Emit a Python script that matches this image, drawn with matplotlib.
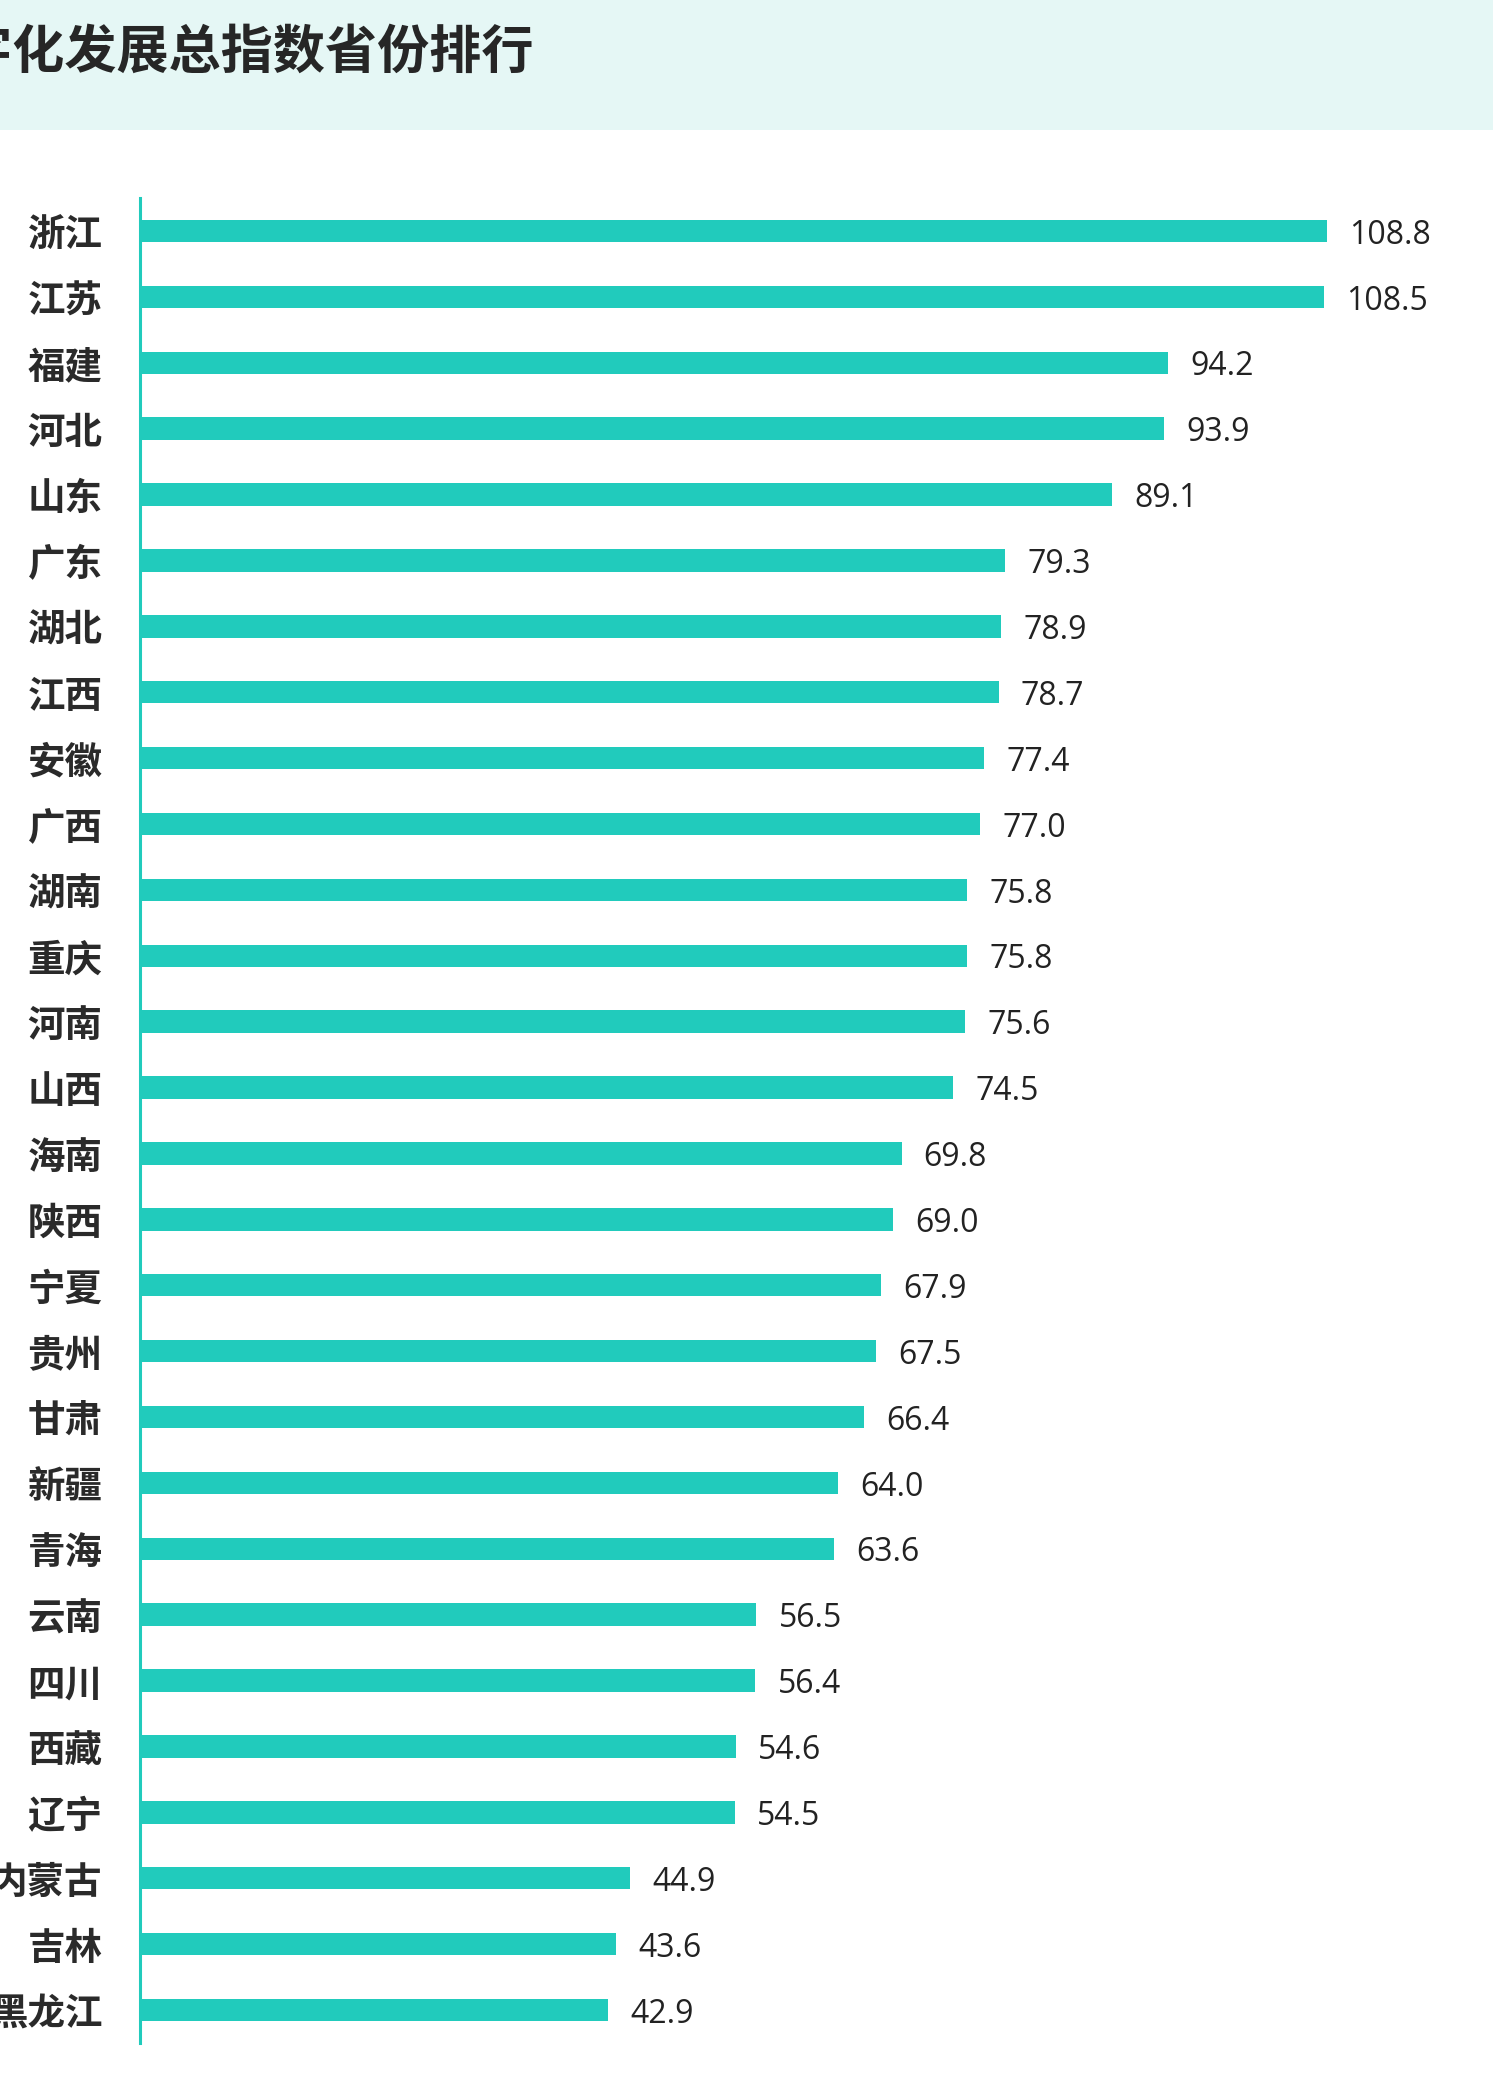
import matplotlib.pyplot as plt
from matplotlib.patches import Rectangle

plt.rcParams['font.family'] = ['Noto Sans CJK SC', 'DejaVu Sans']

# 数据
provinces = ["浙江", "江苏", "福建", "河北", "山东", "广东", "湖北", "江西", "安徽", "广西",
             "湖南", "重庆", "河南", "山西", "海南", "陕西", "宁夏", "贵州", "甘肃", "新疆",
             "青海", "云南", "四川", "西藏", "辽宁", "内蒙古", "吉林", "黑龙江"]
scores = [108.8, 108.5, 94.2, 93.9, 89.1, 79.3, 78.9, 78.7, 77.4, 77.0,
          75.8, 75.8, 75.6, 74.5, 69.8, 69.0, 67.9, 67.5, 66.4, 64.0,
          63.6, 56.5, 56.4, 54.6, 54.5, 44.9, 43.6, 42.9]
title = "数字化发展总指数省份排行"

W, H = 1493, 2098
teal = "#21CBBC"

fig = plt.figure(figsize=(W / 100, H / 100), dpi=100)

# 顶部标题栏
fig.patches.append(Rectangle((0, 1 - 130 / H), 1, 130 / H, transform=fig.transFigure,
                             facecolor="#E5F7F5", edgecolor="none", zorder=0))
fig.text(-91 / W, 1 - 52 / H, title, fontsize=37.5, fontweight="heavy",
         color="#262626", ha="left", va="center")

ax = fig.add_axes([140 / W, 1 - 2043 / H, (W - 140) / W, (2043 - 198) / H])
y = list(range(len(provinces)))
ax.barh(y, scores, height=0.34, color=teal)
for yi, v in zip(y, scores):
    ax.annotate(f"{v:.1f}", (v, yi), xytext=(16, -3), textcoords="offset points",
                ha="left", va="center", fontsize=23, color="#222222",
                family=["Open Sans", "DejaVu Sans"])

ax.set_xlim(0, (W - 140) / 10.91)
ax.set_ylim(len(provinces) - 0.5, -0.5)
ax.set_yticks(y)
ax.set_yticklabels(provinces, fontsize=27, fontweight="heavy", color="#2a2a2a")
ax.tick_params(axis="y", length=0, pad=27)
ax.set_xticks([])

for side in ["top", "right", "bottom"]:
    ax.spines[side].set_visible(False)
ax.spines["left"].set_color(teal)
ax.spines["left"].set_linewidth(2.2)

fig.savefig("out.png", dpi=100)
